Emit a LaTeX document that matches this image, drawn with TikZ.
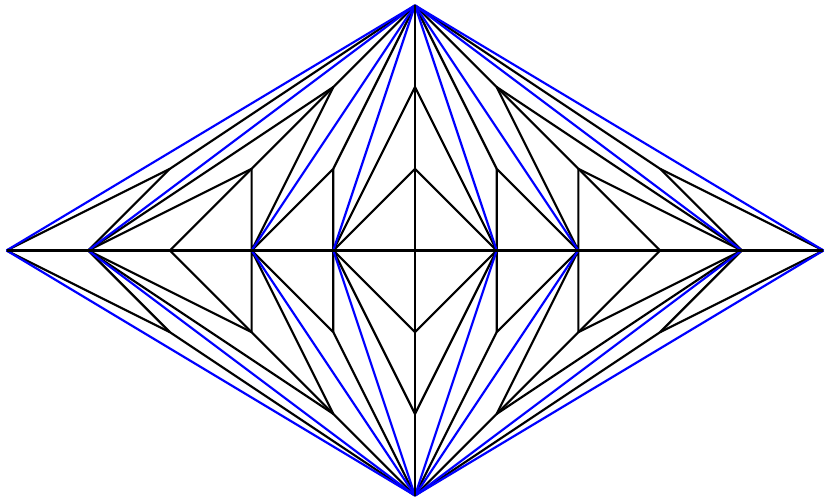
\documentclass[tikz,border=0pt]{standalone}
\usepackage{tikz}
\usetikzlibrary{calc,positioning}
\tikzset{
  fold line/.style  = {line width=0.75pt, line join=round},
  blue line/.style  = {fold line, blue},
}
\begin{document}
\begin{tikzpicture}[fold line]
\useasboundingbox (-5.08,-3.066) rectangle (5.08,3.066);
%---------------------------------------------
% one quarter, mirrored four times
\def\setquarter{
	\path
	( 0, 3) coordinate (top)
	(-5, 0) coordinate (a5)
	(-4, 0) coordinate (a4)
	(-3, 0) coordinate (a3)
	(-2, 0) coordinate (a2)
	(-1, 0) coordinate (a1)
	(-3, 1) coordinate (p31)
	(-2, 1) coordinate (p21)
	(-1, 1) coordinate (p11)
	(-1, 2) coordinate (p12)
	( 0, 2) coordinate (q2)
	( 0, 1) coordinate (q1); }
\foreach \sx in {-1,1} \foreach \sy in {-1,1} {
	\begin{scope}[xscale=\sx, yscale=\sy]
		\setquarter
		\draw (a5) -- (p31) -- (top);
		\draw (a4) -- (p31);
		\draw (a4) -- (p12);
		\draw (a4) -- (p21);
		\draw (a3) -- (p21) -- (p12) -- (top);
		\draw (p21) -- (a2) -- (p12);
		\draw (a2) -- (p11) -- (top);
		\draw (p11) -- (a1) -- (q2);
		\draw (a1) -- (q1);
		\draw[blue line] (top) -- (a5);
		\draw[blue line] (top) -- (a4);
		\draw[blue line] (top) -- (a2);
		\draw[blue line] (top) -- (a1);
	\end{scope}
}
%---------------------------------------------
\coordinate (west)  at (-5, 0);
\coordinate (east)  at ( 5, 0);
\coordinate (north) at ( 0, 3);
\coordinate (south) at ( 0,-3);
\draw (west) -- (east);
\draw (north) -- (south);
\end{tikzpicture}
\end{document}
